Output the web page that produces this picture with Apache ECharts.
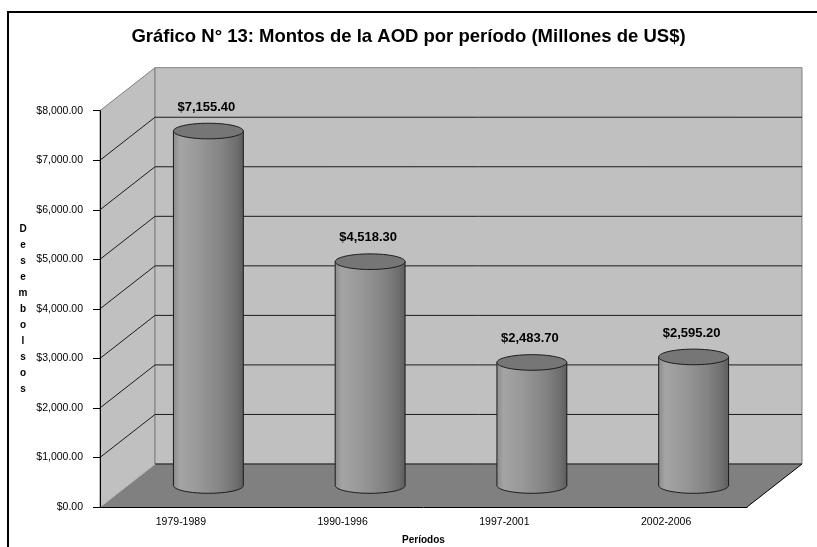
<!DOCTYPE html>
<html>
<head>
<meta charset="utf-8">
<script src="https://cdn.jsdelivr.net/npm/echarts@6/dist/echarts.min.js"></script>
<style>
  html, body { margin: 0; padding: 0; background: #fff; }
  #chart { width: 817px; height: 547px; }
</style>
</head>
<body>
<div id="chart"></div>
<script>
// Official development aid disbursements by period (millions of US$)
const categories = ['1979-1989', '1990-1996', '1997-2001', '2002-2006'];
const amounts = [7155.4, 4518.3, 2483.7, 2595.2];
const yTicks = [0, 1000, 2000, 3000, 4000, 5000, 6000, 7000, 8000];
const titleText = 'Gráfico N° 13: Montos de la AOD por período (Millones de US$)';
const yName = 'Desembolsos';
const xName = 'Períodos';

// 3D depth of the plot box (offset of the back wall from the front plane)
const DX = 55, DY = -43;
const FONT = '"Liberation Sans", Arial, sans-serif';

const money = v => '$' + v.toLocaleString('en-US', { minimumFractionDigits: 2, maximumFractionDigits: 2 });

// Side wall, back wall, floor and gridlines
function renderWalls(params, api) {
  const cs = params.coordSys;
  const x0 = cs.x, x1 = cs.x + cs.width;
  const yMax = yTicks[yTicks.length - 1];
  const yB = api.coord([0, 0])[1];
  const yT = api.coord([0, yMax])[1];
  const children = [
    { type: 'polygon', shape: { points: [[x0, yT], [x0 + DX, yT + DY], [x0 + DX, yB + DY], [x0, yB]] },
      style: { fill: '#c0c0c0', stroke: '#808080', lineWidth: 1 } },
    { type: 'rect', shape: { x: x0 + DX, y: yT + DY, width: x1 - x0, height: yB - yT },
      style: { fill: '#c0c0c0', stroke: '#808080', lineWidth: 1 } },
    { type: 'polygon', shape: { points: [[x0, yB], [x0 + DX, yB + DY], [x1 + DX, yB + DY], [x1, yB]] },
      style: { fill: '#808080', stroke: null } },
    { type: 'line', shape: { x1: x0, y1: yB, x2: x0 + DX, y2: yB + DY },
      style: { stroke: '#c8c8c8', lineWidth: 1 } },
    { type: 'line', shape: { x1: x1, y1: yB, x2: x1 + DX, y2: yB + DY },
      style: { stroke: '#000', lineWidth: 1 } }
  ];
  yTicks.forEach(t => {
    if (t === yMax) return;
    const y = api.coord([0, t])[1];
    children.push({ type: 'line', shape: { x1: x0 + DX, y1: y + DY, x2: x1 + DX, y2: y + DY },
      style: { stroke: '#1c1c1c', lineWidth: 1 } });
    if (t !== 0) {
      children.push({ type: 'line', shape: { x1: x0, y1: y, x2: x0 + DX, y2: y + DY },
        style: { stroke: '#1c1c1c', lineWidth: 1 } });
    }
  });
  return { type: 'group', children };
}

// Cylinder column standing at mid-depth, with its value label on top
function renderCylinder(params, api) {
  const idx = api.value(0), val = api.value(1);
  const base = api.coord([idx, 0]);
  const top = api.coord([idx, val]);
  const bw = api.size([1, 0])[0];
  const r = bw * 0.216, ry = 7.8;
  const cx = base[0] + DX / 2;
  const yb = base[1] + DY / 2;
  const yt = top[1] + DY / 2;
  const N = 40;
  const body = [[cx - r, yt]];
  for (let k = 0; k <= N; k++) {
    const th = Math.PI - Math.PI * k / N;
    body.push([cx + r * Math.cos(th), yb + ry * Math.sin(th)]);
  }
  body.push([cx + r, yt]);
  const cap = [];
  for (let k = 0; k < 2 * N; k++) {
    const th = 2 * Math.PI * k / (2 * N);
    cap.push([cx + r * Math.cos(th), yt + ry * Math.sin(th)]);
  }
  const grad = new echarts.graphic.LinearGradient(0, 0, 1, 0, [
    { offset: 0, color: '#8a8a8a' },
    { offset: 0.1, color: '#a4a4a4' },
    { offset: 0.35, color: '#999999' },
    { offset: 0.7, color: '#838383' },
    { offset: 0.9, color: '#6e6e6e' },
    { offset: 1, color: '#5c5c5c' }
  ]);
  return {
    type: 'group',
    children: [
      { type: 'polygon', shape: { points: body }, style: { fill: grad, stroke: '#1a1a1a', lineWidth: 1 } },
      { type: 'polygon', shape: { points: cap }, style: { fill: '#767676', stroke: '#1a1a1a', lineWidth: 1 } },
      { type: 'text', style: { text: money(val), x: cx - 2, y: yt - 24, align: 'center', verticalAlign: 'middle',
        fontFamily: FONT, fontWeight: 'bold', fontSize: 13, fill: '#000' } }
    ]
  };
}

const chart = echarts.init(document.getElementById('chart'), null, { renderer: 'canvas' });
chart.setOption({
  animation: false,
  backgroundColor: '#fff',
  title: {
    text: titleText, left: 'center', top: 22,
    textStyle: { fontFamily: FONT, fontWeight: 'bold', fontSize: 18.5, color: '#000' }
  },
  graphic: [
    { type: 'rect', z: 100, silent: true, shape: { x: 8, y: 12, width: 840, height: 560 },
      style: { fill: null, stroke: '#000', lineWidth: 2 } }
  ],
  grid: { left: 100, right: 70, top: 110.7, bottom: 40, outerBoundsMode: 'none' },
  xAxis: {
    type: 'category', data: categories, boundaryGap: true, z: 10,
    axisLine: { lineStyle: { color: '#000', width: 1 } },
    axisTick: { length: 4, lineStyle: { color: '#000' } },
    axisLabel: { margin: 10, color: '#000', fontFamily: FONT, fontSize: 10.5 },
    name: xName, nameLocation: 'middle', nameGap: 28,
    nameTextStyle: { fontFamily: FONT, fontWeight: 'bold', fontSize: 10, color: '#000' },
    splitLine: { show: false }
  },
  yAxis: {
    type: 'value', min: 0, max: 8000, interval: 1000, z: 10,
    axisLine: { show: true, lineStyle: { color: '#000', width: 1 } },
    axisTick: { show: true, length: 7, lineStyle: { color: '#000' } },
    axisLabel: { margin: 17, color: '#000', fontFamily: FONT, fontSize: 10.5, formatter: v => money(v) },
    splitLine: { show: false },
    name: yName.split('').join('\n'), nameLocation: 'middle', nameGap: 77, nameRotate: 0,
    nameTextStyle: { fontFamily: FONT, fontWeight: 'bold', fontSize: 10, color: '#000',
      lineHeight: 16, align: 'center', verticalAlign: 'middle' }
  },
  series: [
    { type: 'custom', z: 1, silent: true, renderItem: renderWalls, data: [[0, 0]], clip: false },
    { type: 'custom', z: 3, renderItem: renderCylinder,
      data: amounts.map((v, i) => [i, v]), clip: false }
  ]
});
</script>
</body>
</html>
